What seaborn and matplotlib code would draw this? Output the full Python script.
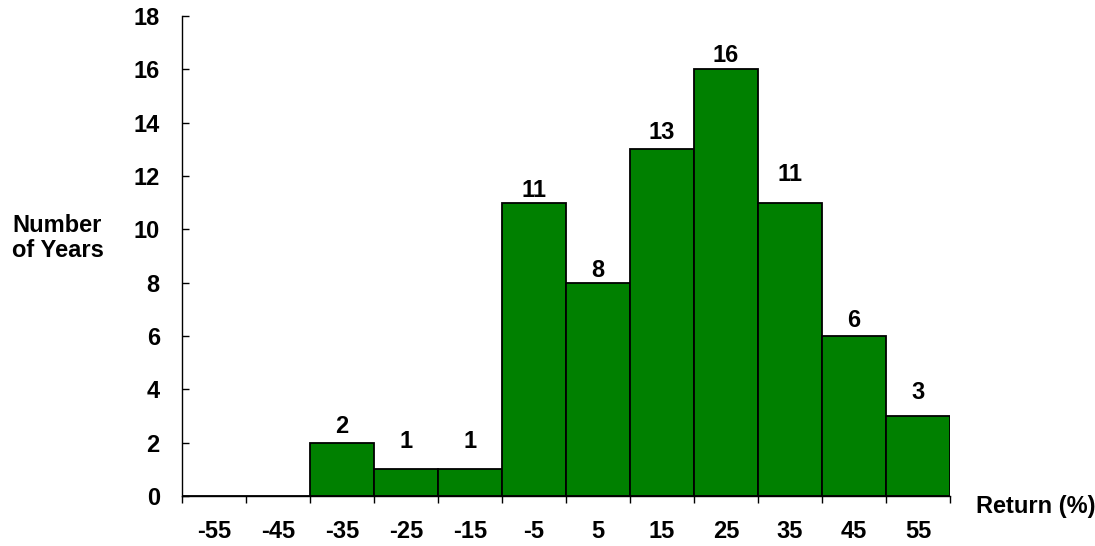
import matplotlib
matplotlib.use("Agg")
import matplotlib.pyplot as plt
import seaborn as sns

# return buckets (midpoints, %) and number of years in each
return_bins = ["-55", "-45", "-35", "-25", "-15", "-5", "5", "15", "25", "35", "45", "55"]
num_years = [0, 0, 2, 1, 1, 11, 8, 13, 16, 11, 6, 3]

# gap between value label and bar top, in pixels (labels sit a bit unevenly)
label_gap_px = [0, 0, 10, 21, 21, 6, 6, 10, 7, 22, 9, 17]

sns.set_style("white")
plt.rcParams['font.family'] = ['Liberation Sans', 'DejaVu Sans']
plt.rcParams['font.weight'] = 'bold'
plt.rcParams['text.color'] = 'black'
plt.rcParams['xtick.color'] = 'black'
plt.rcParams['ytick.color'] = 'black'

FS = 17

fig = plt.figure(figsize=(10.95, 5.46), dpi=100)
ax = fig.add_axes([182 / 1095, 1 - 496 / 546, (950 - 182) / 1095, (496 - 16) / 546])

sns.barplot(x=return_bins, y=num_years, order=return_bins, color="#008000",
            saturation=1, width=1.0, edgecolor="black", linewidth=1.3, ax=ax)

ax.set_xlim(-0.5, len(return_bins) - 0.5)
ax.set_ylim(0, 18)
ax.set_yticks(range(0, 19, 2))

# bucket borders get the tick marks, labels sit in the middle of the bars
ax.set_xticks([i - 0.5 for i in range(len(return_bins) + 1)])
ax.set_xticklabels([])
ax.set_xticks(range(len(return_bins)), minor=True)
ax.set_xticklabels(return_bins, minor=True, fontsize=FS, fontweight='bold')
ax.tick_params(axis='x', which='major', direction='out', length=5, width=1, bottom=True)
ax.tick_params(axis='x', which='minor', length=0, pad=17)
ax.tick_params(axis='y', direction='in', length=5, width=1, left=True, pad=16, labelsize=FS)
for lbl in ax.get_yticklabels():
    lbl.set_fontweight('bold')

for side in ['top', 'right']:
    ax.spines[side].set_visible(False)
for side in ['left', 'bottom']:
    ax.spines[side].set_color('black')
    ax.spines[side].set_linewidth(1.0)

ax.set_xlabel("")
ax.set_ylabel("")

for i, (v, gap) in enumerate(zip(num_years, label_gap_px)):
    if v == 0:
        continue
    ax.annotate(str(v), xy=(i, v), xytext=(0, gap * 0.72), textcoords='offset points',
                ha='center', va='baseline', fontsize=FS, fontweight='bold')

fig.text(12 / 1095, 1 - 238 / 546, "Number\nof Years", ha='left', va='center',
         fontsize=FS, fontweight='bold', linespacing=1.15)
fig.text(976 / 1095, 1 - 507 / 546, "Return (%)", ha='left', va='center',
         fontsize=FS, fontweight='bold')

fig.savefig("out.png", dpi=100)
